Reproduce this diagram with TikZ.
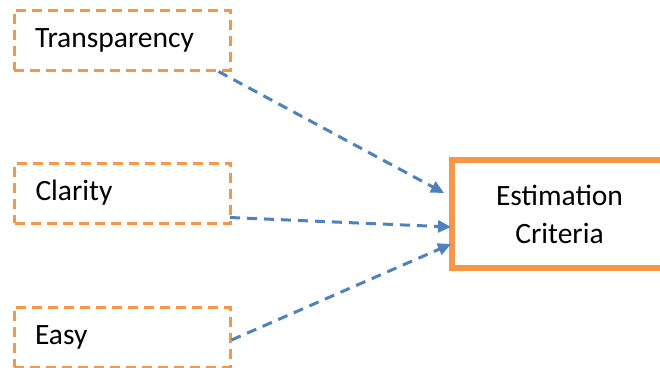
\documentclass[tikz,border=0pt]{standalone}
\usepackage{fontspec}
\setmainfont{Carlito}
\usetikzlibrary{arrows.meta}
\definecolor{boxorange}{HTML}{F79646}
\definecolor{linkblue}{HTML}{4F81BD}
\begin{document}
\begin{tikzpicture}[x=1pt, y=-1pt,
        factor/.style={draw=boxorange, line width=3pt, dash pattern=on 10pt off 6pt,
            text width=174pt, inner xsep=21pt, align=left, minimum height=60pt,
            font=\fontsize{29.5}{37}\selectfont},
        target/.style={draw=boxorange, line width=6pt, minimum width=215pt, minimum height=108pt,
            align=center, font=\fontsize{29.5}{38}\selectfont},
        link/.style={draw=linkblue, line width=3pt, dash pattern=on 10pt off 7pt,
            -{Triangle[length=13pt,width=12pt]}}]
        \useasboundingbox (0,0) rectangle (660,367);

        % Factors
        \node[factor] (trans) at (122,40) {Transparency};
        \node[factor] (clar) at (122.5,193) {Clarity};
        \node[factor] (easy) at (122,337) {Easy};

        % Criteria
        \node[target] (est) at (559.5,214) {Estimation\\Criteria};

        % Links
        \draw[link] ([xshift=-13pt]trans.south east) -- ([xshift=-5pt,yshift=21pt]est.west);
        \draw[link] ([xshift=-2pt,yshift=7pt]clar.south east) -- ([xshift=2pt,yshift=-13pt]est.west);
        \draw[link] ([yshift=-3pt]easy.east) -- ([xshift=2pt,yshift=-30pt]est.west);
    \end{tikzpicture}
\end{document}
